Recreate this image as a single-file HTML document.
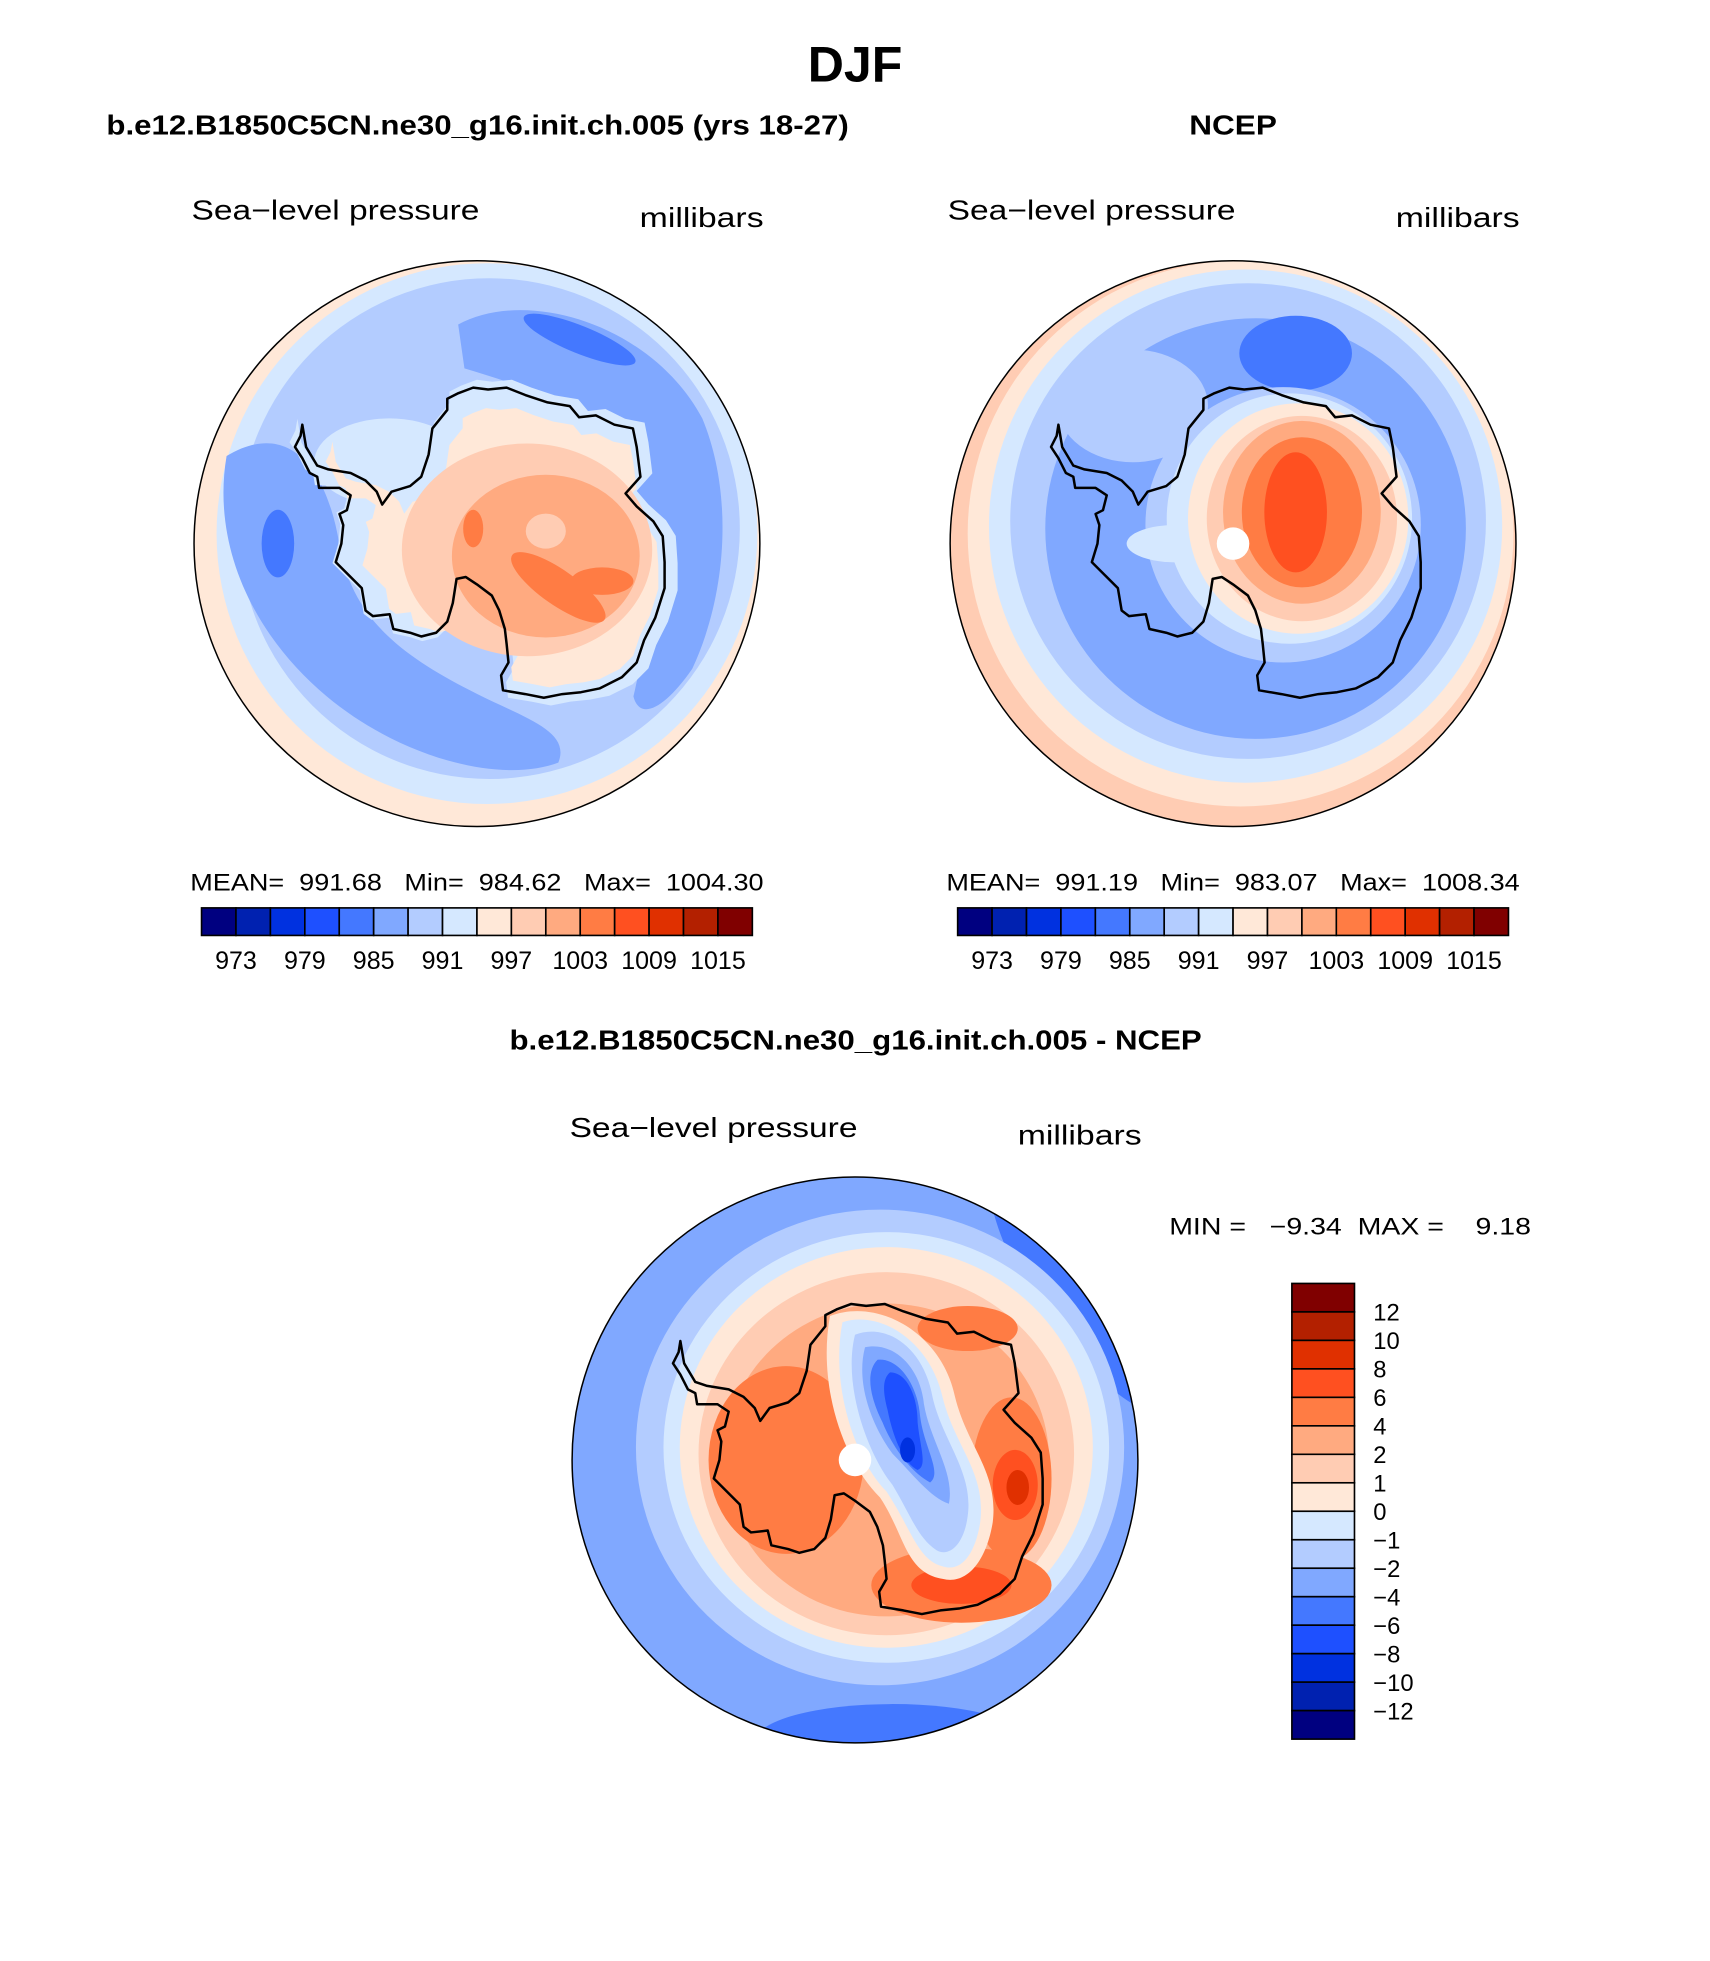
<!DOCTYPE html>
<html><head><meta charset="utf-8">
<style>
html,body{margin:0;padding:0;background:#fff;}
svg{display:block;}
text{font-family:"Liberation Sans",sans-serif;fill:#000;white-space:pre;}
.b{font-weight:bold;}
</style></head>
<body>
<svg id="fig" xmlns="http://www.w3.org/2000/svg" width="1710" height="1961" viewBox="0 0 1366 1566" xml:space="preserve">
<rect width="1366" height="1566" fill="#fff"/>
<text x="683" y="65" text-anchor="middle" class="b" font-size="40">DJF</text>
<text x="85" y="107" class="b" font-size="22.5" textLength="593" lengthAdjust="spacingAndGlyphs">b.e12.B1850C5CN.ne30_g16.init.ch.005 (yrs 18-27)</text>
<text x="950" y="107" class="b" font-size="22.5" textLength="70" lengthAdjust="spacingAndGlyphs">NCEP</text>
<text x="153" y="175" font-size="22" textLength="230" lengthAdjust="spacingAndGlyphs">Sea−level pressure</text>
<text x="511" y="181" font-size="22" textLength="99" lengthAdjust="spacingAndGlyphs">millibars</text>
<text x="757" y="175" font-size="22" textLength="230" lengthAdjust="spacingAndGlyphs">Sea−level pressure</text>
<text x="1115" y="181" font-size="22" textLength="99" lengthAdjust="spacingAndGlyphs">millibars</text>
<text x="407" y="838" class="b" font-size="22.5" textLength="553" lengthAdjust="spacingAndGlyphs">b.e12.B1850C5CN.ne30_g16.init.ch.005 - NCEP</text>
<text x="455" y="908" font-size="22" textLength="230" lengthAdjust="spacingAndGlyphs">Sea−level pressure</text>
<text x="813" y="914" font-size="22" textLength="99" lengthAdjust="spacingAndGlyphs">millibars</text>
<text x="152" y="711" font-size="19" textLength="458" lengthAdjust="spacingAndGlyphs">MEAN=  991.68   Min=  984.62   Max=  1004.30</text>
<text x="756" y="711" font-size="19" textLength="458" lengthAdjust="spacingAndGlyphs">MEAN=  991.19   Min=  983.07   Max=  1008.34</text>
<text x="934" y="986" font-size="19" textLength="289" lengthAdjust="spacingAndGlyphs">MIN =   −9.34  MAX =    9.18</text>

<g id="mapL" transform="translate(381,434)"></g>
<g id="mapR" transform="translate(985,434)"></g>
<g id="mapD" transform="translate(683,1166)"></g>
<g id="cbars"></g>
</svg>
<script>
const colors = ["#000080","#0021b0","#0031e0","#1e50ff","#4478ff","#80a8ff","#b3ccff","#d5e8ff","#ffe8d8","#ffccb3","#ffaa80","#ff7c44","#ff5020","#e03000","#b32000","#800000"];
const slpLevels = [973,976,979,982,985,988,991,994,997,1000,1003,1006,1009,1012,1015];
const slpLabels = ["973","979","985","991","997","1003","1009","1015"];
const diffLevels = [-12,-10,-8,-6,-4,-2,-1,0,1,2,4,6,8,10,12];
const diffLabels = ["12","10","8","6","4","2","1","0","\u22121","\u22122","\u22124","\u22126","\u22128","\u221210","\u221212"];

const NS = "http://www.w3.org/2000/svg";
function mk(tag, attrs, parent){
  const e = document.createElementNS(NS, tag);
  for (const k in attrs) e.setAttribute(k, attrs[k]);
  parent.appendChild(e); return e;
}
const coastRaw = [[690,390],[720,375],[760,360],[800,365],[850,360],[900,380],[960,400],[1020,410],[1045,440],[1090,435],[1140,460],[1190,470],[1200,520],[1210,600],[1170,645],[1200,680],[1245,720],[1270,760],[1275,830],[1275,900],[1250,980],[1220,1040],[1200,1100],[1160,1140],[1100,1170],[1050,1180],[1000,1185],[950,1195],[900,1185],[840,1175],[835,1135],[855,1100],[850,1050],[845,1010],[830,960],[810,920],[770,890],[740,870],[715,875],[705,940],[690,990],[660,1020],[620,1030],[590,1020],[545,1010],[535,970],[490,975],[470,960],[460,900],[420,860],[390,830],[405,780],[410,730],[400,700],[420,690],[430,650],[400,630],[345,630],[340,600],[320,590],[300,550],[280,520],[295,490],[300,460],[310,520],[340,570],[370,580],[430,590],[470,610],[500,640],[515,675],[540,640],[590,625],[620,600],[640,540],[650,470],[690,420]];
function coastPath(s, ox, oy){
  ox = ox||0; oy = oy||0;
  return coastRaw.map((p,i)=>(i?"L":"M")+(((p[0]-770)/3.37)*s+ox).toFixed(1)+","+(((p[1]-780)/3.37)*s+oy).toFixed(1)).join("")+"Z";
}
function clip(g,id){
  const d = mk("clipPath",{id:id},g); mk("circle",{r:226},d);
  return mk("g",{"clip-path":"url(#"+id+")"},g);
}
function finish(g, dot){
  mk("path",{d:coastPath(1),fill:"none",stroke:"#000","stroke-width":2,"stroke-linejoin":"round"},g);
  if(dot) mk("circle",{r:13,fill:"#fff"},g);
  mk("circle",{r:226,fill:"none",stroke:"#000","stroke-width":1.2},g);
}
(function(){
  const G = document.getElementById("mapL"); const g = clip(G,"cL");
  mk("circle",{r:226,fill:colors[8]},g);
  mk("circle",{cx:8,cy:-8,r:216,fill:colors[7]},g);
  mk("circle",{cx:10,cy:-12,r:200,fill:colors[6]},g);
  mk("path",{d:"M-200,-70C-150,-100-120,-60-110,0C-100,60-60,90 0,120C40,140 75,150 65,175C20,192-60,172-120,122C-180,72-212,0-200,-70Z",fill:colors[5]},g);
  mk("path",{d:"M-15,-175C40,-205 140,-175 180,-100C205,-40 200,40 172,100C150,132 130,142 125,122C140,60 140,0 120,-50C90,-110 40,-125-10,-140Z",fill:colors[5]},g);
  mk("ellipse",{cx:-159,cy:0,rx:13,ry:27,fill:colors[4]},g);
  mk("ellipse",{cx:82,cy:-163,rx:48,ry:11,transform:"rotate(22 82 -163)",fill:colors[4]},g);
  mk("path",{d:coastPath(1.05,3,0),fill:colors[7]},g);
  mk("ellipse",{cx:-70,cy:-65,rx:60,ry:35,fill:colors[7]},g);
  mk("path",{d:coastPath(0.9,10,4),fill:colors[8]},g);
  mk("ellipse",{cx:40,cy:5,rx:100,ry:85,fill:colors[9]},g);
  mk("ellipse",{cx:55,cy:10,rx:75,ry:65,fill:colors[10]},g);
  mk("ellipse",{cx:55,cy:-10,rx:16,ry:14,fill:colors[9]},g);
  mk("ellipse",{cx:65,cy:35,rx:45,ry:14,transform:"rotate(35 65 35)",fill:colors[11]},g);
  mk("ellipse",{cx:100,cy:30,rx:25,ry:11,fill:colors[11]},g);
  mk("ellipse",{cx:-3,cy:-12,rx:8,ry:15,fill:colors[11]},g);
  finish(G,false);
})();
(function(){
  const G = document.getElementById("mapR"); const g = clip(G,"cR");
  mk("circle",{r:226,fill:colors[9]},g);
  mk("circle",{cx:6,cy:-8,r:218,fill:colors[8]},g);
  mk("circle",{cx:10,cy:-14,r:205,fill:colors[7]},g);
  mk("circle",{cx:12,cy:-18,r:190,fill:colors[6]},g);
  mk("circle",{cx:18,cy:-12,r:168,fill:colors[5]},g);
  mk("ellipse",{cx:-80,cy:-110,rx:60,ry:45,fill:colors[6]},g);
  mk("ellipse",{cx:50,cy:-152,rx:45,ry:30,fill:colors[4]},g);
  mk("ellipse",{cx:40,cy:-15,rx:110,ry:110,fill:colors[6]},g);
  mk("ellipse",{cx:45,cy:-20,rx:98,ry:100,fill:colors[7]},g);
  mk("ellipse",{cx:-45,cy:0,rx:40,ry:15,fill:colors[7]},g);
  mk("ellipse",{cx:52,cy:-20,rx:88,ry:92,fill:colors[8]},g);
  mk("ellipse",{cx:55,cy:-20,rx:76,ry:82,fill:colors[9]},g);
  mk("ellipse",{cx:55,cy:-25,rx:63,ry:73,fill:colors[10]},g);
  mk("ellipse",{cx:55,cy:-25,rx:48,ry:60,fill:colors[11]},g);
  mk("ellipse",{cx:50,cy:-25,rx:25,ry:48,fill:colors[12]},g);
  finish(G,true);
})();
(function(){
  const G = document.getElementById("mapD"); const g = clip(G,"cD");
  mk("circle",{r:226,fill:colors[5]},g);
  mk("ellipse",{cx:200,cy:-150,rx:60,ry:140,transform:"rotate(-35 200 -150)",fill:colors[4]},g);
  mk("ellipse",{cx:30,cy:225,rx:110,ry:30,fill:colors[4]},g);
  mk("ellipse",{cx:20,cy:-10,rx:195,ry:190,fill:colors[6]},g);
  mk("ellipse",{cx:25,cy:-10,rx:178,ry:172,fill:colors[7]},g);
  mk("ellipse",{cx:25,cy:-10,rx:165,ry:160,fill:colors[8]},g);
  mk("ellipse",{cx:25,cy:-5,rx:150,ry:145,fill:colors[9]},g);
  mk("ellipse",{cx:25,cy:0,rx:130,ry:125,fill:colors[10]},g);
  mk("ellipse",{cx:-55,cy:0,rx:62,ry:75,fill:colors[11]},g);
  mk("ellipse",{cx:125,cy:15,rx:32,ry:65,fill:colors[11]},g);
  mk("ellipse",{cx:85,cy:100,rx:72,ry:30,fill:colors[11]},g);
  mk("ellipse",{cx:90,cy:-105,rx:40,ry:18,fill:colors[11]},g);
  mk("ellipse",{cx:128,cy:20,rx:18,ry:28,fill:colors[12]},g);
  mk("ellipse",{cx:85,cy:100,rx:40,ry:15,fill:colors[12]},g);
  mk("ellipse",{cx:130,cy:22,rx:9,ry:14,fill:colors[13]},g);
  mk("path",{d:"M-20,-115C20,-130 70,-100 80,-50C90,-10 115,10 110,50C105,80 90,100 70,95C40,90 40,60 20,30C-10,0-30,-60-20,-115Z",fill:colors[8]},g);
  mk("path",{d:"M-10,-110C20,-120 60,-95 70,-50C80,-10 105,10 100,50C96,75 85,90 70,85C50,80 45,55 25,25C0,0-20,-60-10,-110Z",fill:colors[7]},g);
  mk("path",{d:"M0,-100C25,-110 55,-90 62,-50C70,-15 95,10 90,45C87,68 75,78 65,72C50,62 45,45 30,20C10,-5-10,-60 0,-100Z",fill:colors[6]},g);
  mk("path",{d:"M8,-90C30,-95 52,-75 55,-45C60,-15 80,10 75,35C60,30 45,10 30,-5C15,-25 0,-60 8,-90Z",fill:colors[5]},g);
  mk("path",{d:"M18,-80C35,-82 50,-60 52,-35C55,-10 70,10 60,18C45,10 30,-10 22,-30C12,-50 8,-70 18,-80Z",fill:colors[4]},g);
  mk("path",{d:"M28,-70C42,-70 50,-50 50,-30C52,-10 58,5 50,8C38,2 30,-20 26,-40C22,-55 22,-65 28,-70Z",fill:colors[3]},g);
  mk("ellipse",{cx:42,cy:-8,rx:6,ry:10,fill:colors[2]},g);
  finish(G,true);
})();
const CB = document.getElementById("cbars");
function hbar(x0, name){
  const y0=725, w=27.5, h=22;
  for(let i=0;i<colors.length;i++){
    const r = mk("rect",{x:x0+i*w,y:y0,width:w,height:h,fill:colors[i],stroke:"#000","stroke-width":1.3},CB);
    
    
  }
  slpLevels.forEach((v,i)=>{
    const lbl = String(v);
    if(slpLabels.indexOf(lbl)<0) return;
    const t = mk("text",{x:x0+(i+1)*w,y:y0+h+27,"text-anchor":"middle","font-size":20},CB);
    
    
    t.textContent = lbl;
  });
}
hbar(161,"model-colorbar");
hbar(765,"ncep-colorbar");
(function(){
  const x0=1032, y0=1025, w=50, h=22.75;
  for(let i=0;i<colors.length;i++){
    const r = mk("rect",{x:x0,y:y0+i*h,width:w,height:h,fill:colors[colors.length-1-i],stroke:"#000","stroke-width":1.3},CB);
    
    
  }
  diffLevels.slice().reverse().forEach((v,i)=>{
    const t = mk("text",{x:x0+w+15,y:y0+(i+1)*h+7,"font-size":19},CB);
    
    
    t.textContent = diffLabels[i];
  });
})();
</script>
</body></html>
